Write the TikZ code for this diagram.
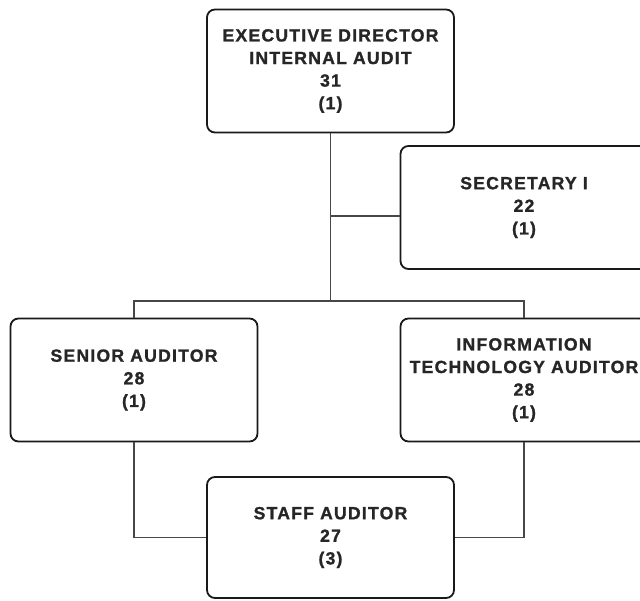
\documentclass[tikz,border=0pt]{standalone}
\usepackage{fontspec}
\newfontfamily\boxfont{Liberation Sans Bold}[LetterSpace=7, FakeBold=1.2]
\begin{document}
\begin{tikzpicture}[x=1pt,y=-1pt,
  posbox/.style={draw=black!90, line width=1.8pt, rounded corners=8pt,
    minimum width=247pt, minimum height=123pt, align=center, inner sep=2pt,
    text=black!85, font=\boxfont\fontsize{17.6}{22.6}\selectfont,
    execute at begin node={\rule{0pt}{24pt}}},
  link/.style={draw=black!72, line width=1.3pt}]
\useasboundingbox (0,0) rectangle (640,601);
\clip (0,0) rectangle (640,601);
\node[posbox] (top) at (330.5,71) {EXECUTIVE DIRECTOR\\INTERNAL AUDIT\\31\\(1)};
\node[posbox] (sec) at (524,207.5) {SECRETARY I\\22\\(1)};
\node[posbox] (senior) at (134,380) {SENIOR AUDITOR\\28\\(1)};
\node[posbox] (it) at (524,380) {INFORMATION\\TECHNOLOGY AUDITOR\\28\\(1)};
\node[posbox, minimum height=121pt] (staff) at (330.5,537.5) {STAFF AUDITOR\\27\\(3)};
\coordinate (bus) at (330.5,301);
\coordinate (j1) at (330.5,216);
\draw[link] (top.south) -- (bus);
\draw[link] (j1) -- (j1 -| sec.west);
\draw[link] (senior.north) |- (bus) -| (it.north);
\draw[link] (senior.south) |- (staff.west);
\draw[link] (it.south) |- (staff.east);
\end{tikzpicture}
\end{document}
